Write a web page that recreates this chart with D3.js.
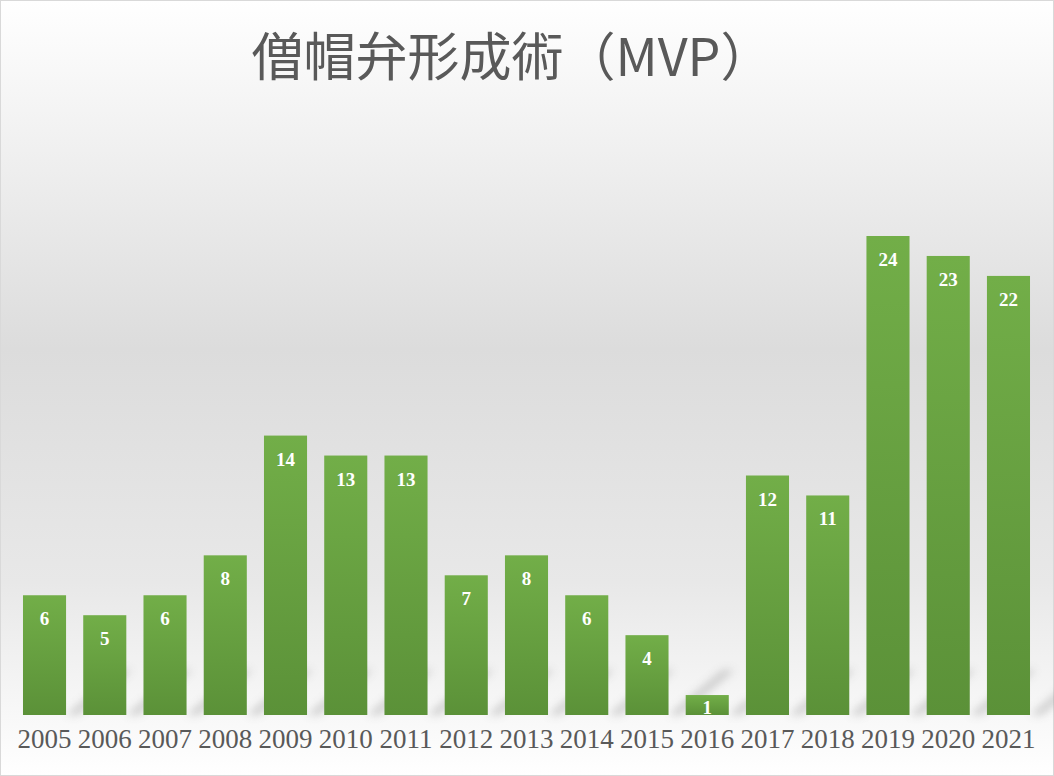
<!DOCTYPE html>
<html><head><meta charset="utf-8">
<script src="https://cdn.jsdelivr.net/npm/d3@7"></script>
<style>body{margin:0;background:#fff}</style>
</head><body>
<svg id="chart" width="1054" height="776"></svg>
<script>
const years = ["2005","2006","2007","2008","2009","2010","2011","2012","2013","2014","2015","2016","2017","2018","2019","2020","2021"];
const counts = [6,5,6,8,14,13,13,7,8,6,4,1,12,11,24,23,22];
const title = "僧帽弁形成術（MVP）";

const svg = d3.select("#chart");
const defs = svg.append("defs");

const bg = defs.append("linearGradient").attr("id", "bg").attr("x1", 0).attr("y1", 0).attr("x2", 0).attr("y2", 1);
bg.append("stop").attr("offset", "0%").attr("stop-color", "#ffffff");
bg.append("stop").attr("offset", "45%").attr("stop-color", "#dcdcdc");
bg.append("stop").attr("offset", "75%").attr("stop-color", "#e8e8e8");
bg.append("stop").attr("offset", "100%").attr("stop-color", "#ffffff");

const bar = defs.append("linearGradient").attr("id", "bar").attr("x1", 0).attr("y1", 0).attr("x2", 0).attr("y2", 1);
bar.append("stop").attr("offset", "0%").attr("stop-color", "#72ae48");
bar.append("stop").attr("offset", "100%").attr("stop-color", "#5b9138");

const sh = defs.append("filter").attr("id", "blur").attr("x", "-50%").attr("y", "-50%").attr("width", "200%").attr("height", "200%");
sh.append("feGaussianBlur").attr("stdDeviation", 4);

svg.append("rect").attr("width", 1054).attr("height", 776).attr("fill", "url(#bg)");
svg.append("rect").attr("x", 0.5).attr("y", 0.5).attr("width", 1053).attr("height", 775)
  .attr("fill", "none").attr("stroke", "#d9d9d9");

const x = d3.scaleBand().domain(years).range([14.4, 1038.6]).paddingInner(0.285).paddingOuter(0.1425);
const y = d3.scaleLinear().domain([0, 24]).range([715, 236]);

// soft shadows behind bars
svg.append("g").selectAll("path").data(counts).join("path")
  .attr("d", (d, i) => {
    const x0 = x(years[i]) + x.bandwidth(), b = y(0), h = Math.min(b - y(d), 60);
    return `M${x0},${b} L${x0 + h * 0.9},${b - h * 0.75} L${x0 + h * 0.9 + 12},${b - h * 0.75} L${x0 + 12},${b} Z`;
  })
  .attr("fill", "#9a9a9a").attr("opacity", 0.45).attr("filter", "url(#blur)");

svg.append("g").selectAll("rect").data(counts).join("rect")
  .attr("x", (d, i) => x(years[i]))
  .attr("y", d => y(d))
  .attr("width", x.bandwidth())
  .attr("height", d => y(0) - y(d))
  .attr("fill", "url(#bar)");

svg.append("g").selectAll("text").data(counts).join("text")
  .attr("x", (d, i) => x(years[i]) + x.bandwidth() / 2)
  .attr("y", d => Math.min(y(d) + 30, y(0) - 1))
  .attr("text-anchor", "middle")
  .attr("fill", "#fff").attr("font-weight", "bold")
  .attr("font-family", "Liberation Serif, DejaVu Serif, serif").attr("font-size", 19)
  .text(d => d);

svg.append("g").attr("transform", "translate(0,715)")
  .call(d3.axisBottom(x).tickSize(0).tickPadding(14))
  .call(g => g.select(".domain").remove())
  .call(g => g.selectAll("text").attr("fill", "#595959")
    .attr("font-family", "Liberation Serif, DejaVu Serif, serif").attr("font-size", 27));

svg.append("text").attr("x", 512).attr("y", 76).attr("text-anchor", "middle")
  .attr("fill", "#595959").attr("font-size", 52)
  .attr("font-family", "Noto Sans CJK JP, Liberation Serif, serif")
  .text(title);
</script>
</body></html>
